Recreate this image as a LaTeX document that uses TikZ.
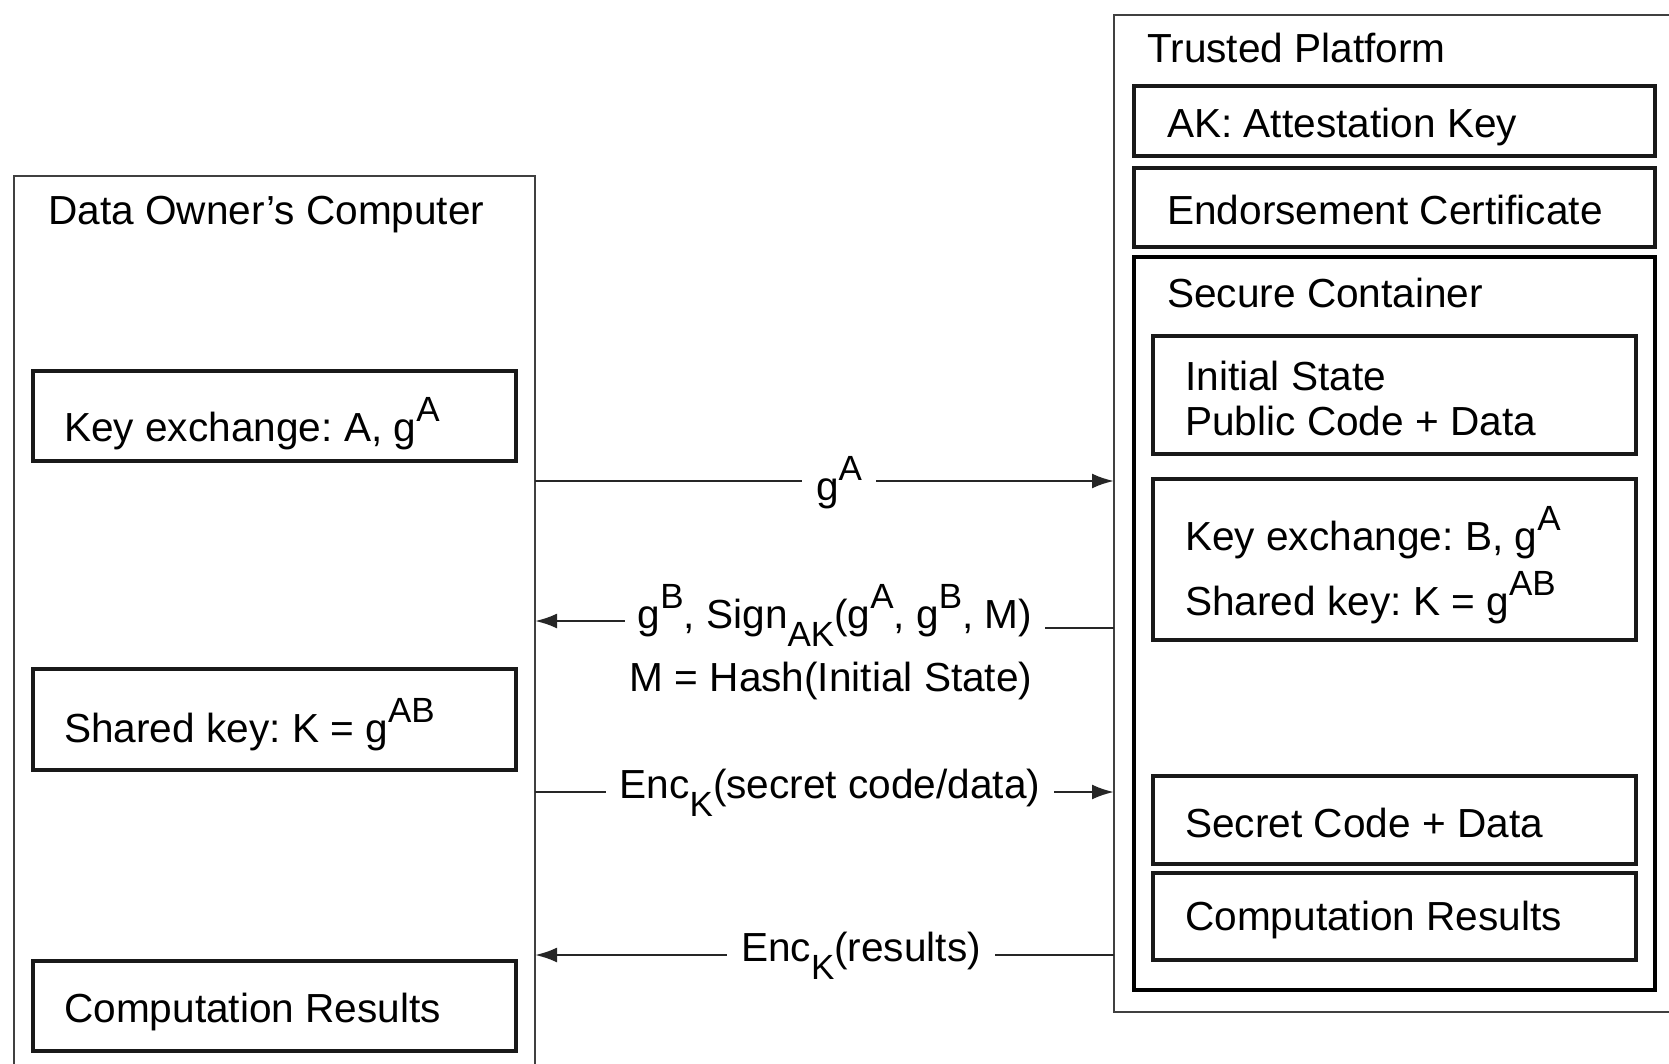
\documentclass[tikz,border=0pt]{standalone}
\usepackage{fontspec}
\setmainfont{Liberation Sans}
\usetikzlibrary{arrows.meta}
\frenchspacing
\newcommand\upx[1]{\raisebox{0.47em}{\fontsize{35}{35}\selectfont #1}}
\newcommand\dnx[1]{\raisebox{-0.45em}{\fontsize{35}{35}\selectfont #1}}
\begin{document}
\begin{tikzpicture}[x=1pt,y=-1pt,
  every node/.style={font=\fontsize{40.6}{48}\selectfont},
  outerbox/.style={draw=black!75,line width=2.6pt,inner sep=0pt,outer sep=0pt},
  innerbox/.style={draw=black!90,line width=3.2pt,inner sep=0pt,outer sep=0pt},
  txt/.style={anchor=base west,inner sep=0pt},
  lbl/.style={anchor=base,inner xsep=14pt,inner ysep=0pt},
  conn/.style={draw=black!85,line width=2.6pt},
  tip/.style={-{Latex[length=22pt,width=15pt]}},
  revtip/.style={{Latex[length=22pt,width=15pt]}-}]
\useasboundingbox (0,0) rectangle (1669,1064);
\clip (0,0) rectangle (1669,1064);
% left side
\node[outerbox,minimum width=521pt,minimum height=924pt] (L) at (274.5,638) {};
\node[innerbox,minimum width=483pt,minimum height=90pt] (LK) at (274.5,416) {};
\node[innerbox,minimum width=483pt,minimum height=101pt] (LS) at (274.5,719.5) {};
\node[innerbox,minimum width=483pt,minimum height=90pt] (LC) at (274.5,1006) {};
\node[txt] (tL) at (48,225) {Data Owner’s Computer};
\node[txt] (tLK) at (64,441) {Key exchange: A, g\upx{A}};
\node[txt] (tLS) at (64,742) {Shared key: K = g\upx{AB}};
\node[txt] (tLC) at (64,1022) {Computation Results};
% right side
\node[outerbox,minimum width=606pt,minimum height=997pt] (R) at (1417,513.5) {};
\node[innerbox,minimum width=521pt,minimum height=70pt] (AK) at (1394.5,121) {};
\node[innerbox,minimum width=521pt,minimum height=79pt] (EC) at (1394.5,207.5) {};
\node[innerbox,draw=black,minimum width=521pt,minimum height=733pt] (SC) at (1394.5,623.5) {};
\node[innerbox,minimum width=483pt,minimum height=118pt] (IS) at (1394.5,395) {};
\node[innerbox,minimum width=483pt,minimum height=161pt] (KB) at (1394.5,559.5) {};
\node[innerbox,minimum width=483pt,minimum height=88pt] (SD) at (1394.5,820) {};
\node[innerbox,minimum width=483pt,minimum height=87pt] (CR) at (1394.5,916.5) {};
\node[txt] (tR) at (1147,63) {Trusted Platform};
\node[txt] (tAK) at (1167,138) {AK: Attestation Key};
\node[txt] (tEC) at (1167,225) {Endorsement Certificate};
\node[txt] (tSC) at (1167,308) {Secure Container};
\node[txt] (tIS1) at (1185,390) {Initial State};
\node[txt] (tIS2) at (1185,435) {Public Code + Data};
\node[txt] (tKB1) at (1185,550) {Key exchange: B, g\upx{A}};
\node[txt] (tKB2) at (1185,615) {Shared key: K = g\upx{AB}};
\node[txt] (tSD) at (1185,837) {Secret Code + Data};
\node[txt] (tCR) at (1185,930) {Computation Results};
% messages
\coordinate (ya) at (0,481);
\node[lbl] (ga) at (839,500) {g\upx{A}};
\draw[conn] (L.east |- ya) -- (ga.west |- ya);
\draw[conn,tip] (ga.east |- ya) -- (R.west |- ya);
\coordinate (yb1) at (0,621);
\coordinate (yb2) at (0,628);
\node[lbl,inner xsep=13pt] (gb) at (835,628) {g\upx{B}, Sign\dnx{AK}(g\upx{A}, g\upx{B}, M)};
\node[anchor=base,inner sep=0pt] (hash) at (831,691) {M = Hash(Initial State)};
\draw[conn,revtip] (L.east |- yb1) -- (gb.west |- yb1);
\draw[conn] (gb.east |- yb2) -- (R.west |- yb2);
\coordinate (yc) at (0,792);
\node[lbl,inner xsep=14pt] (es) at (830,798) {Enc\dnx{K}(secret code/data)};
\draw[conn] (L.east |- yc) -- (es.west |- yc);
\draw[conn,tip] (es.east |- yc) -- (R.west |- yc);
\coordinate (yd) at (0,955);
\node[lbl,inner xsep=14pt] (er) at (861,961) {Enc\dnx{K}(results)};
\draw[conn,revtip] (L.east |- yd) -- (er.west |- yd);
\draw[conn] (er.east |- yd) -- (R.west |- yd);
\end{tikzpicture}
\end{document}
